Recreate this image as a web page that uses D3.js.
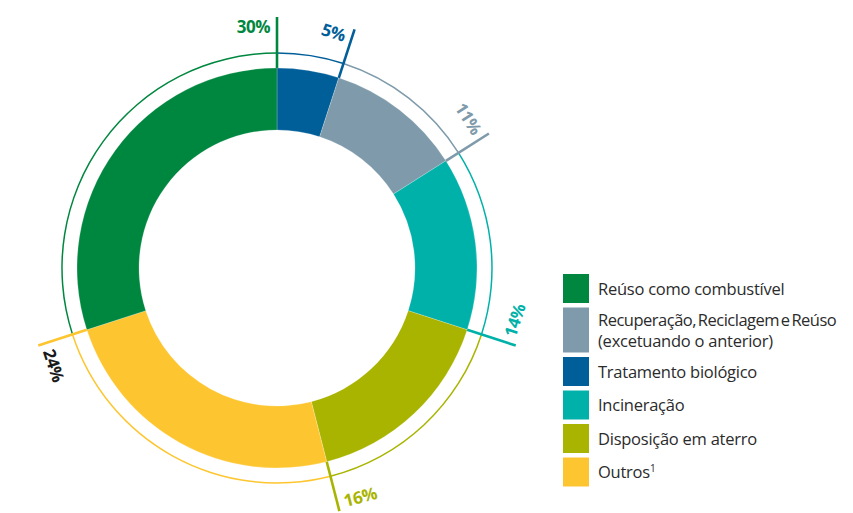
<!DOCTYPE html>
<html>
<head>
<meta charset="utf-8">
<script src="https://cdn.jsdelivr.net/npm/d3@7"></script>
<style>
  body { margin: 0; background: #fff; }
  text { font-family: "Open Sans", "Noto Sans", sans-serif; }
</style>
</head>
<body>
<div id="viz"></div>
<script>
// clockwise from 12 o'clock
const sliceNames = ['Tratamento biológico', 'Recuperação', 'Incineração', 'Disposição em aterro', 'Outros', 'Reúso como combustível'];
const sliceValues = [5, 11, 14, 16, 24, 30];
const sliceColors = ['#005e99', '#7f9bab', '#00b1a9', '#a9b400', '#fdc630', '#00873f'];
const labelColors = ['#005e99', '#7f9bab', '#00b1a9', '#a9b400', '#1a1a1a', '#00873f'];

// legend, top to bottom
const legendLines = [
    ['Reúso como combustível'],
    ['Recuperação, Reciclagem e Reúso', '(excetuando o anterior)'],
    ['Tratamento biológico'],
    ['Incineração'],
    ['Disposição em aterro'],
    ['Outros']
];
const legendColors = ['#00873f', '#7f9bab', '#005e99', '#00b1a9', '#a9b400', '#fdc630'];

const width = 853, height = 513;
const cx = 277, cy = 268;
const rInner = 138, rOuter = 200, rRing = 215, rTick = 251, rLabel = 242;

const svg = d3.select('#viz')
    .append('svg')
    .attr('width', width)
    .attr('height', height);

const pie = d3.pie().sort(null).value(d => d);
const arcs = pie(sliceValues);

const g = svg.append('g').attr('transform', `translate(${cx},${cy})`);

const arc = d3.arc().innerRadius(rInner).outerRadius(rOuter);
g.selectAll('path.slice').data(arcs)
    .enter()
    .append('path')
    .attr('class', 'slice')
    .attr('d', arc)
    .attr('fill', (d, i) => sliceColors[i])
    .attr('stroke', 'rgba(255,255,255,0.35)')
    .attr('stroke-width', 0.6);

// thin outer ring
const ringArc = d3.arc().innerRadius(rRing - 0.75).outerRadius(rRing + 0.75);
g.selectAll('path.ring').data(arcs)
    .enter()
    .append('path')
    .attr('class', 'ring')
    .attr('d', ringArc)
    .attr('fill', (d, i) => sliceColors[i]);

// radial ticks at the end of each slice
const deg = a => a * 180 / Math.PI;
g.selectAll('line.tick').data(arcs)
    .enter()
    .append('line')
    .attr('class', 'tick')
    .attr('x1', d => rOuter * Math.sin(d.endAngle))
    .attr('y1', d => -rOuter * Math.cos(d.endAngle))
    .attr('x2', d => rTick * Math.sin(d.endAngle))
    .attr('y2', d => -rTick * Math.cos(d.endAngle))
    .attr('stroke', (d, i) => sliceColors[i])
    .attr('stroke-width', 2.6);

// labels sit on the counter-clockwise side of each tick
g.selectAll('g.lbl').data(arcs)
    .enter()
    .append('g')
    .attr('class', 'lbl')
    .each(function(d, i) {
        let a = deg(d.endAngle) % 360;
        let flip = a > 90 && a < 270;
        let grp = d3.select(this).attr('transform', `rotate(${flip ? a - 180 : a})`);
        grp.append('text')
            .attr('x', flip ? 7 : -7)
            .attr('y', flip ? rLabel : -rLabel)
            .attr('text-anchor', flip ? 'start' : 'end')
            .attr('dominant-baseline', 'central')
            .attr('font-size', 17)
            .attr('font-weight', 700)
            .attr('letter-spacing', -0.5)
            .attr('fill', labelColors[i])
            .text(sliceValues[i] + '%');
    });

// legend
const legX = 563, legW = 26;
let y = 274;
const leg = svg.append('g');
legendLines.forEach((lines, i) => {
    let h = lines.length > 1 ? 45 : 29;
    leg.append('rect')
        .attr('x', legX).attr('y', y)
        .attr('width', legW).attr('height', h)
        .attr('fill', legendColors[i]);
    let t = leg.append('text')
        .attr('x', legX + 35)
        .attr('font-size', 16.5)
        .attr('letter-spacing', -0.25)
        .attr('fill', '#2b2b2b');
    lines.forEach((s, j) => {
        let ts = t.append('tspan')
            .attr('x', legX + 35)
            .attr('y', y + h / 2 + 6 + (lines.length > 1 ? (j - 0.5) * 21 : 0))
            .text(s);
        if (j === 0 && lines.length > 1) ts.attr('word-spacing', -2).attr('letter-spacing', -0.5);
    });
    if (i === legendLines.length - 1) {
        t.append('tspan').attr('font-size', 10).attr('dy', -6).text('1');
    }
    y += h + 4.5;
});
</script>
</body>
</html>
